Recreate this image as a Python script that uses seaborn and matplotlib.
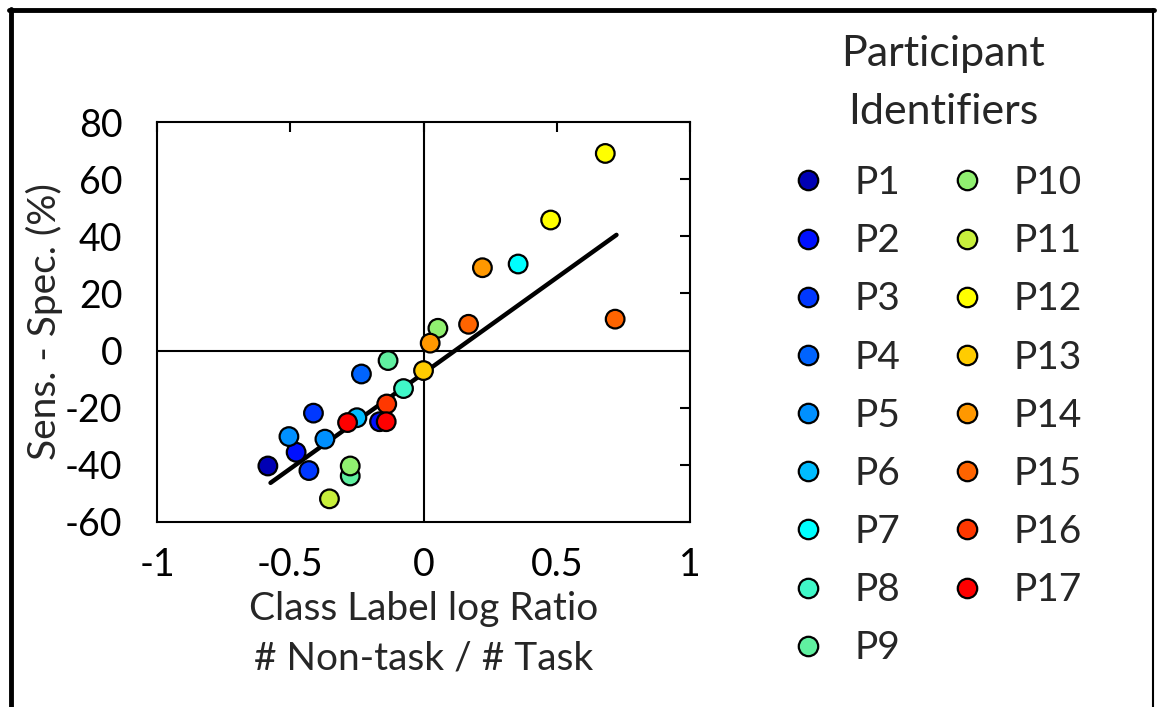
import numpy as np
import pandas as pd
import seaborn as sns
import matplotlib.pyplot as plt
from matplotlib.lines import Line2D

# ---- data ----
participants = ["P1", "P2", "P3", "P4", "P5", "P6", "P7", "P8", "P9",
                "P10", "P11", "P12", "P13", "P14", "P15", "P16", "P17"]
colors = ["#0000b4", "#0010ff", "#0038ff", "#0064ff", "#0090ff", "#00bcff",
          "#00ffff", "#40f8c8", "#60f0a0", "#90f070", "#c8f03c", "#ffff00",
          "#ffcc00", "#ff9800", "#ff6400", "#ff3800", "#ff0000"]

point_participant = ["P1", "P2", "P2", "P3", "P3", "P4", "P5", "P5", "P6",
                     "P7", "P8", "P9", "P9", "P10", "P10", "P11", "P12",
                     "P12", "P13", "P14", "P14", "P15", "P15", "P16",
                     "P17", "P17"]
log_ratio = [-0.584, -0.478, -0.165, -0.430, -0.413, -0.233, -0.505, -0.370,
             -0.250, 0.355, -0.075, -0.133, -0.275, 0.054, -0.275, -0.353,
             0.682, 0.477, 0.000, 0.025, 0.221, 0.169, 0.719, -0.138,
             -0.285, -0.140]
sens_minus_spec = [-40.4, -35.6, -24.9, -42.0, -21.9, -8.2, -30.1, -31.0,
                   -23.5, 30.3, -13.3, -3.5, -43.9, 7.8, -40.4, -51.9,
                   69.0, 45.7, -7.0, 2.6, 29.0, 9.2, 11.0, -18.7,
                   -25.2, -24.9]

fit_x = [-0.574, 0.724]
fit_y = [-46.3, 40.5]

x_ticks = [-1, -0.5, 0, 0.5, 1]
x_tick_labels = ["-1", "-0.5", "0", "0.5", "1"]
y_ticks = [-60, -40, -20, 0, 20, 40, 60, 80]
y_tick_labels = ["-60", "-40", "-20", "0", "20", "40", "60", "80"]

df = pd.DataFrame({"Participant": point_participant,
                   "LogRatio": log_ratio,
                   "SensSpec": sens_minus_spec})
df["Participant"] = pd.Categorical(df["Participant"], categories=participants)

# ---- style ----
sns.set_theme(style="white")
plt.rcParams["font.family"] = ["Lato", "DejaVu Sans"]
plt.rcParams["axes.unicode_minus"] = False

fig = plt.figure(figsize=(11.57, 7.07), dpi=100)
ax = fig.add_axes([0.1357, 0.2617, 0.4607, 0.5657])

ax.axhline(0, color="black", lw=1.5, zorder=1)
ax.axvline(0, color="black", lw=1.5, zorder=1)

sns.scatterplot(data=df, x="LogRatio", y="SensSpec", hue="Participant",
                hue_order=participants, palette=colors, s=180,
                edgecolor="black", linewidth=1.6, ax=ax, zorder=3,
                legend=True)
sns.lineplot(x=fit_x, y=fit_y, color="black", lw=3.2, ax=ax, zorder=2)

ax.set_xlim(-1, 1)
ax.set_ylim(-60, 80)
ax.set_xticks(x_ticks)
ax.set_xticklabels(x_tick_labels)
ax.set_yticks(y_ticks)
ax.set_yticklabels(y_tick_labels)
ax.tick_params(direction="in", length=7, width=1.5, top=True, right=True,
               labelsize=27, colors="black")
ax.tick_params(axis="y", pad=25)
ax.tick_params(axis="x", pad=18)
for sp in ax.spines.values():
    sp.set_visible(True)
    sp.set_color("black")
    sp.set_linewidth(1.5)

ax.set_xlabel("Class Label log Ratio\n# Non-task / # Task", fontsize=28,
              labelpad=6, linespacing=1.45)
ax.set_ylabel("Sens. - Spec. (%)", fontsize=28, labelpad=1)

handles, labels = ax.get_legend_handles_labels()
ax.get_legend().remove()
for h in handles:
    h.set_markersize(14)
    h.set_markeredgecolor("black")
    h.set_markeredgewidth(1.6)
fig.legend(handles, labels, ncol=2, loc="upper left",
           bbox_to_anchor=(0.653, 0.816), frameon=False, fontsize=28,
           handletextpad=0.75, columnspacing=1.25, labelspacing=0.57,
           handlelength=0.9)

fig.text(0.815, 0.883, "Participant\nIdentifiers", ha="center", va="center",
         fontsize=31, linespacing=1.65)

# figure frame
fig.add_artist(Line2D([0.0095, 0.0095], [0, 0.987], transform=fig.transFigure,
                      color="black", lw=3.5))
fig.add_artist(Line2D([0.0075, 0.9975], [0.986, 0.986], transform=fig.transFigure,
                      color="black", lw=3.5))
fig.add_artist(Line2D([0.9965, 0.9965], [0, 0.987], transform=fig.transFigure,
                      color="black", lw=1.5))

fig.savefig("out.png", dpi=100)
